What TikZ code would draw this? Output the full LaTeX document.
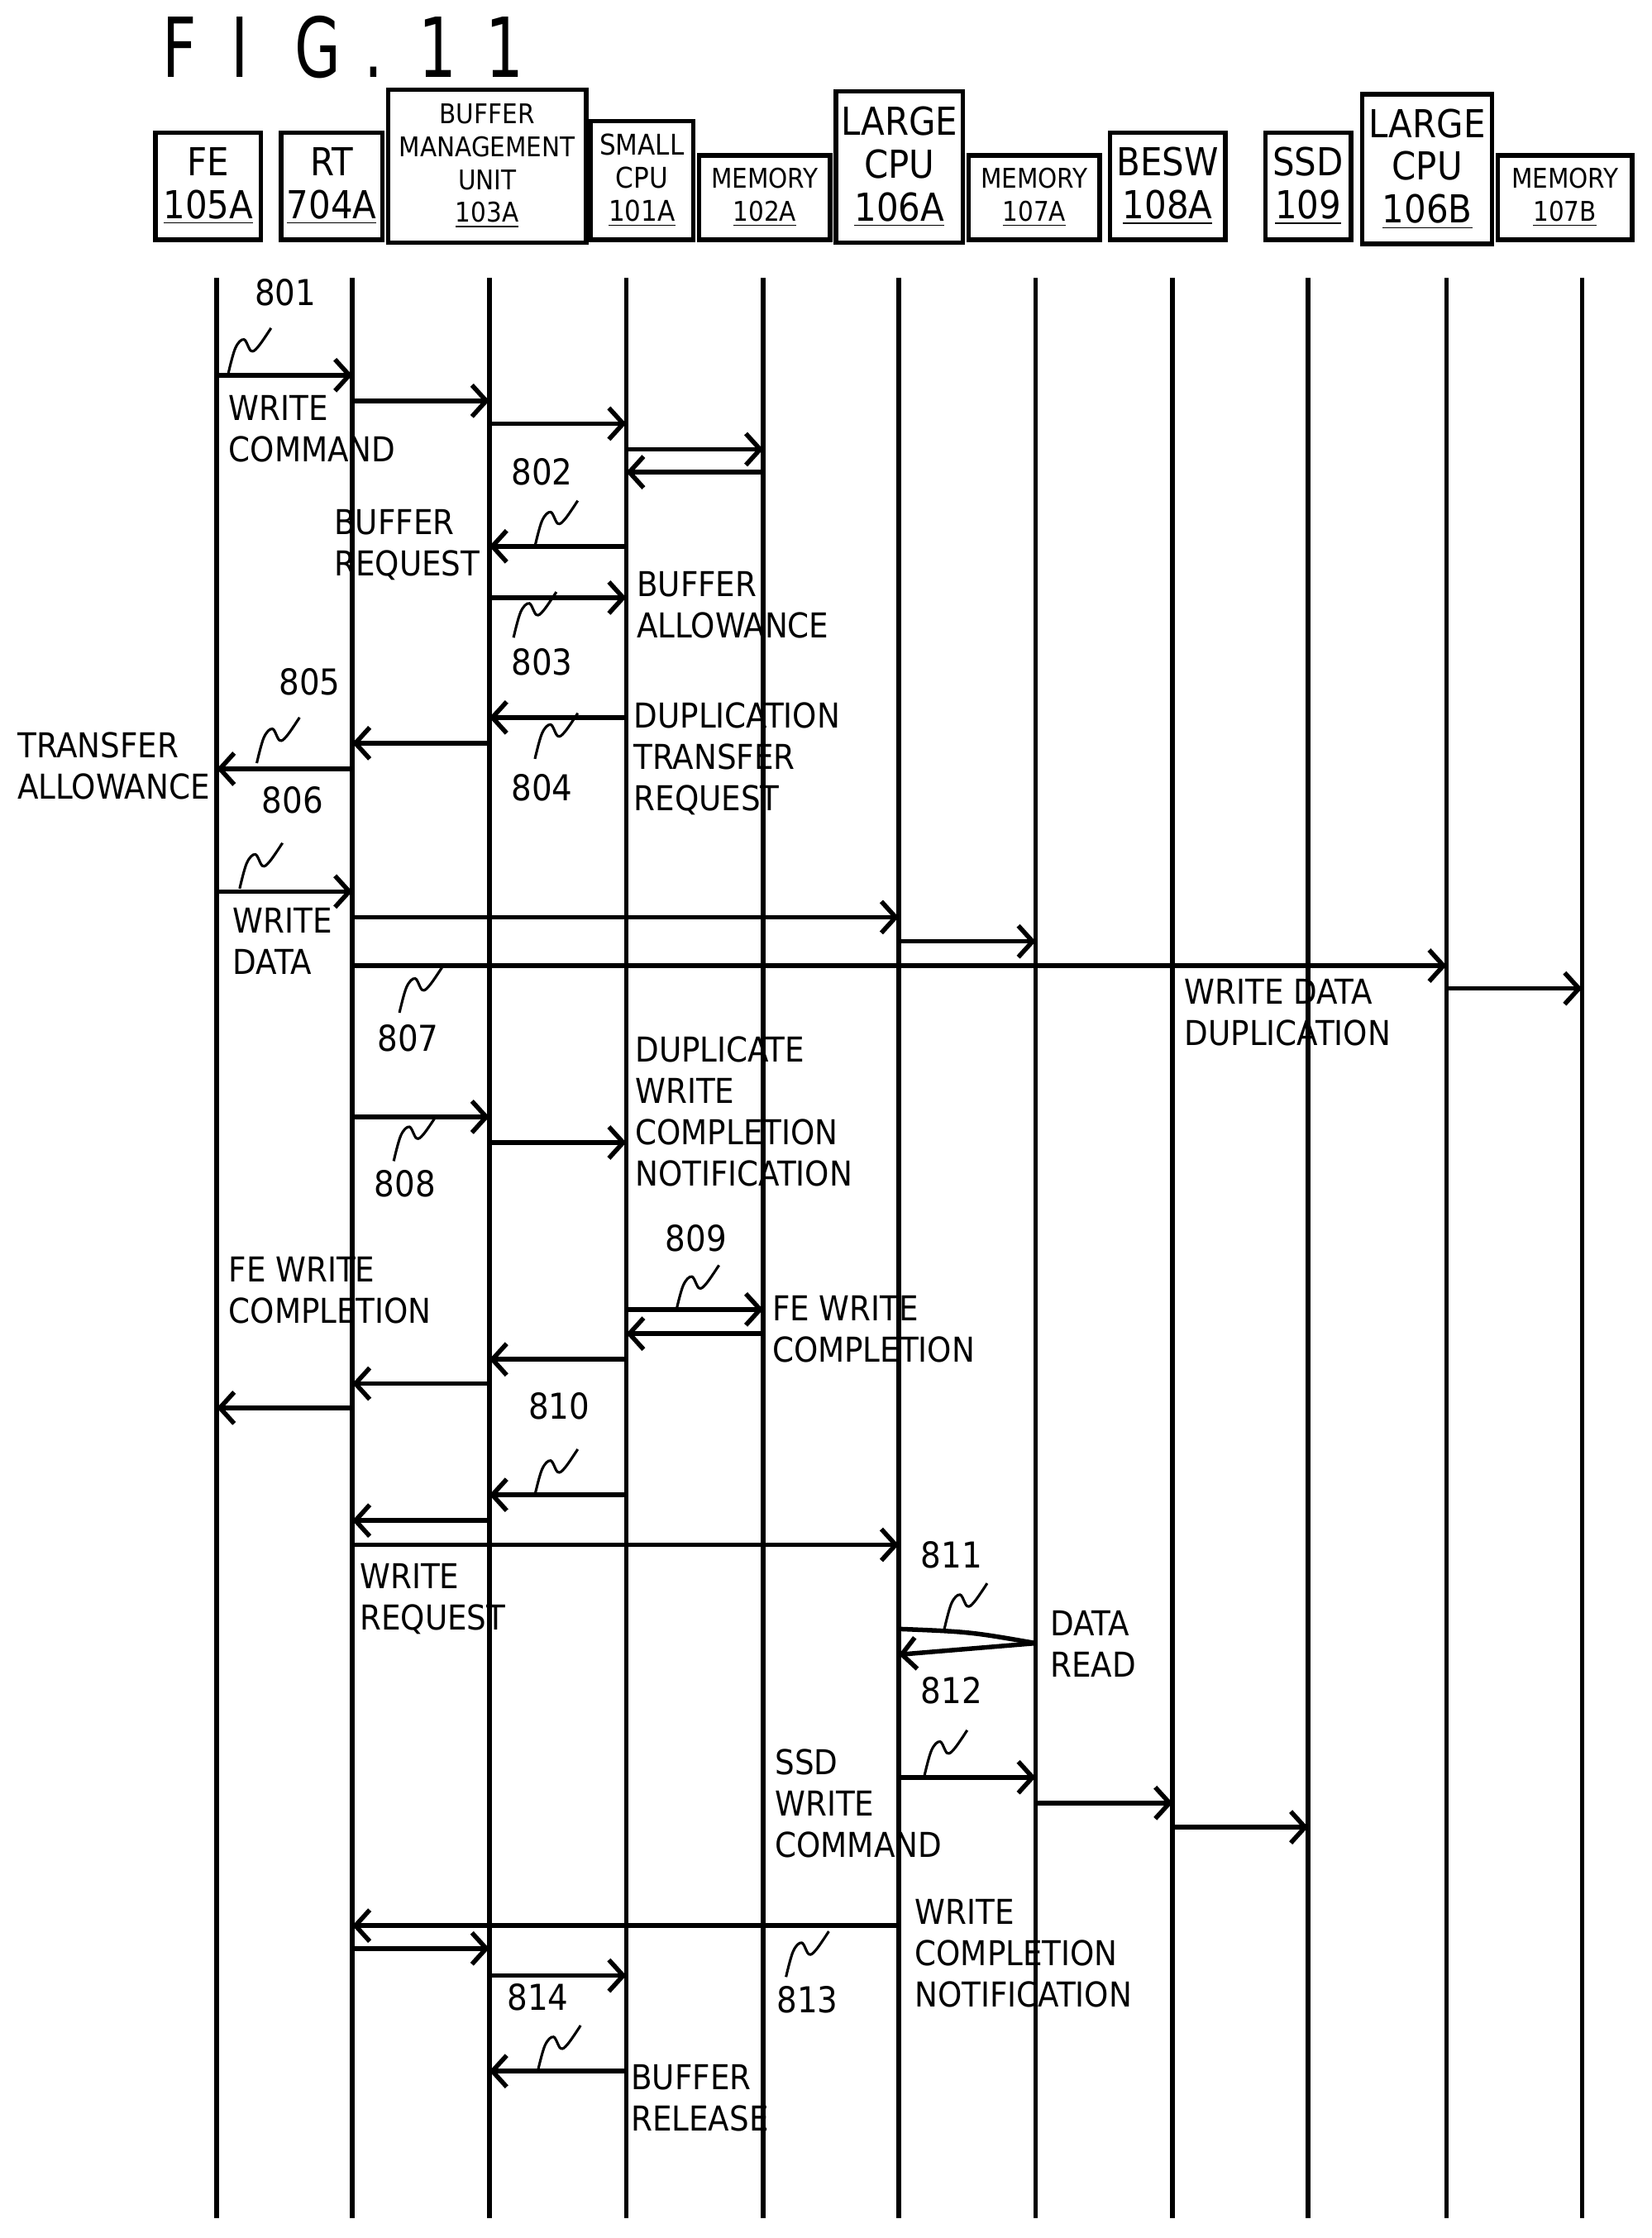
\documentclass[tikz,border=0pt]{standalone}
\usepackage{fontspec}
\setmainfont{DejaVu Sans Condensed}
\usetikzlibrary{arrows.meta}
\tikzset{
 arr/.style={-{Straight Barb[length=5pt,width=11pt,line width=1.6pt]}, line width=1.6pt},
 life/.style={line width=1.6pt},
 hbox/.style={draw, line width=1.6pt, align=center, inner sep=0pt},
 lbl/.style={anchor=north west, align=left, inner sep=0pt, font=\fontsize{12}{14.5}\selectfont},
 num/.style={inner sep=0pt, font=\fontsize{12.5}{14.5}\selectfont},
 sqs/.style={line width=0.9pt},
}
\newcommand\msg[3]{\coordinate (m) at (0,#3); \draw[arr] (#1|-m) -- (#2|-m);}
\newcommand\sqg[2]{\begin{scope}[shift={(#1,#2)}]\draw[sqs] plot[smooth,tension=0.6] coordinates {(0,0) (5,-18) (11,-24) (16,-16) (21,-19) (30,-32)};\end{scope}}
\begin{document}
\begin{tikzpicture}[x=0.5pt,y=-0.5pt]
\useasboundingbox (0,0) rectangle (1158,1569);
% title
\foreach \c/\xx in {F/126,I/168,G/223,./262,1/307,1/354}
  \node[inner sep=0pt,anchor=base,xscale=0.8,font=\fontsize{29}{29}\selectfont] (t\xx) at (\xx,54) {\c};
% header boxes
\node[hbox,minimum width=37pt,minimum height=37.5pt,font=\fontsize{13.5}{15}\selectfont] (bFE) at (146,130.5) {FE\\\underline{105A}};
\node[hbox,minimum width=35.5pt,minimum height=37.5pt,font=\fontsize{13.5}{15}\selectfont] (bRT) at (232.5,130.5) {RT\\\underline{704A}};
\node[hbox,minimum width=69.5pt,minimum height=53.5pt,font=\fontsize{9.5}{11.5}\selectfont] (bBM) at (341.5,116.5) {BUFFER\\MANAGEMENT\\UNIT\\\underline{103A}};
\node[hbox,minimum width=36pt,minimum height=41.5pt,font=\fontsize{10}{11.5}\selectfont] (bSC) at (450,126.5) {SMALL\\CPU\\\underline{101A}};
\node[hbox,minimum width=46pt,minimum height=29.5pt,font=\fontsize{9.5}{11.5}\selectfont] (bM2) at (536,138.5) {MEMORY\\\underline{102A}};
\node[hbox,minimum width=44.5pt,minimum height=53pt,font=\fontsize{13.5}{15}\selectfont] (bLA) at (630.5,117) {LARGE\\CPU\\\underline{106A}};
\node[hbox,minimum width=46pt,minimum height=29.5pt,font=\fontsize{9.5}{11.5}\selectfont] (bM7) at (725,138.5) {MEMORY\\\underline{107A}};
\node[hbox,minimum width=40.5pt,minimum height=37.5pt,font=\fontsize{13.5}{15}\selectfont] (bBE) at (818.5,130.5) {BESW\\\underline{108A}};
\node[hbox,minimum width=30pt,minimum height=37.5pt,font=\fontsize{13.5}{15}\selectfont] (bSS) at (917,130.5) {SSD\\\underline{109}};
\node[hbox,minimum width=45.5pt,minimum height=52.5pt,font=\fontsize{13.5}{15}\selectfont] (bLB) at (1000.5,118.5) {LARGE\\CPU\\\underline{106B}};
\node[hbox,minimum width=47pt,minimum height=29.5pt,font=\fontsize{9.5}{11.5}\selectfont] (bMB) at (1097,138.5) {MEMORY\\\underline{107B}};
% lifelines
\coordinate (bot) at (0,1555);
\foreach \n/\xx in {FE/152,RT/247,BM/343,SC/439,MA/535,LA/630,MC/726,BE/822,SS/917,LB/1014,MB/1109}{
  \coordinate (\n) at (\xx,195);
  \draw[life] (\n) -- (\n|-bot);
}
% messages
\msg{FE}{RT}{263}
\node[num] (n801) at (200,205) {801}; \sqg{160}{262}
\node[lbl] (l1) at (160,277) {WRITE\\COMMAND};
\msg{RT}{BM}{281}
\msg{BM}{SC}{297}
\msg{SC}{MA}{315}
\msg{MA}{SC}{331}
\node[num] (n802) at (380,331) {802}; \sqg{375}{383}
\msg{SC}{BM}{383}
\node[lbl] (l2) at (234,357) {BUFFER\\REQUEST};
\msg{BM}{SC}{419}
\sqg{360}{447} \node[num] (n803) at (380,464) {803};
\node[lbl] (l3) at (446,400) {BUFFER\\ALLOWANCE};
\msg{SC}{BM}{503}
\sqg{375}{532} \node[num] (n804) at (380,552) {804};
\node[lbl] (l4) at (444,492) {DUPLICATION\\TRANSFER\\REQUEST};
\msg{BM}{RT}{521}
\msg{RT}{FE}{539}
\node[lbl] (l5) at (12,513) {TRANSFER\\ALLOWANCE};
\node[num] (n805) at (217,478) {805}; \sqg{180}{535}
\node[num] (n806) at (205,561) {806};
\msg{FE}{RT}{625}
\sqg{168}{623}
\node[lbl] (l6) at (163,636) {WRITE\\DATA};
\msg{RT}{LA}{643}
\msg{LA}{MC}{660}
\msg{RT}{LB}{677}
\sqg{280}{710} \node[num] (n807) at (286,728) {807};
\node[lbl] (l7) at (830,686) {WRITE DATA\\DUPLICATION};
\msg{LB}{MB}{693}
\msg{RT}{BM}{783}
\sqg{276}{814} \node[num] (n808) at (284,830) {808};
\msg{BM}{SC}{801}
\node[lbl] (l8) at (445,726) {DUPLICATE\\WRITE\\COMPLETION\\NOTIFICATION};
\msg{SC}{MA}{918}
\sqg{474}{919} \node[num] (n809) at (488,868) {809};
\node[lbl] (l9) at (541,908) {FE WRITE\\COMPLETION};
\msg{MA}{SC}{935}
\msg{SC}{BM}{953}
\msg{BM}{RT}{970}
\msg{RT}{FE}{987}
\node[lbl] (l10) at (160,881) {FE WRITE\\COMPLETION};
\msg{SC}{BM}{1048}
\sqg{375}{1048} \node[num] (n810) at (392,986) {810};
\msg{BM}{RT}{1066}
\msg{RT}{LA}{1083}
\node[lbl] (l11) at (252,1096) {WRITE\\REQUEST};
\node[num] (n811) at (667,1090) {811}; \sqg{662}{1142}
\coordinate (m) at (0,1142);
\coordinate (dr) at (726,1152);
\draw[line width=1.6pt] (LA|-m) .. controls (680,1144) .. (dr);
\coordinate (m) at (0,1160);
\draw[arr] (dr) -- (LA|-m);
\node[lbl] (l12) at (736,1129) {DATA\\READ};
\node[num] (n812) at (667,1185) {812};
\msg{LA}{MC}{1246}
\sqg{648}{1245}
\node[lbl] (l13) at (543,1226) {SSD\\WRITE\\COMMAND};
\msg{MC}{BE}{1264}
\msg{BE}{SS}{1281}
\msg{LA}{RT}{1350}
\sqg{551}{1386} \node[num] (n813) at (566,1402) {813};
\node[lbl] (l14) at (641,1331) {WRITE\\COMPLETION\\NOTIFICATION};
\msg{RT}{BM}{1366}
\msg{BM}{SC}{1385}
\node[num] (n814) at (377,1400) {814};
\msg{SC}{BM}{1452}
\sqg{377}{1452}
\node[lbl] (l15) at (442,1447) {BUFFER\\RELEASE};
\end{tikzpicture}
\end{document}
